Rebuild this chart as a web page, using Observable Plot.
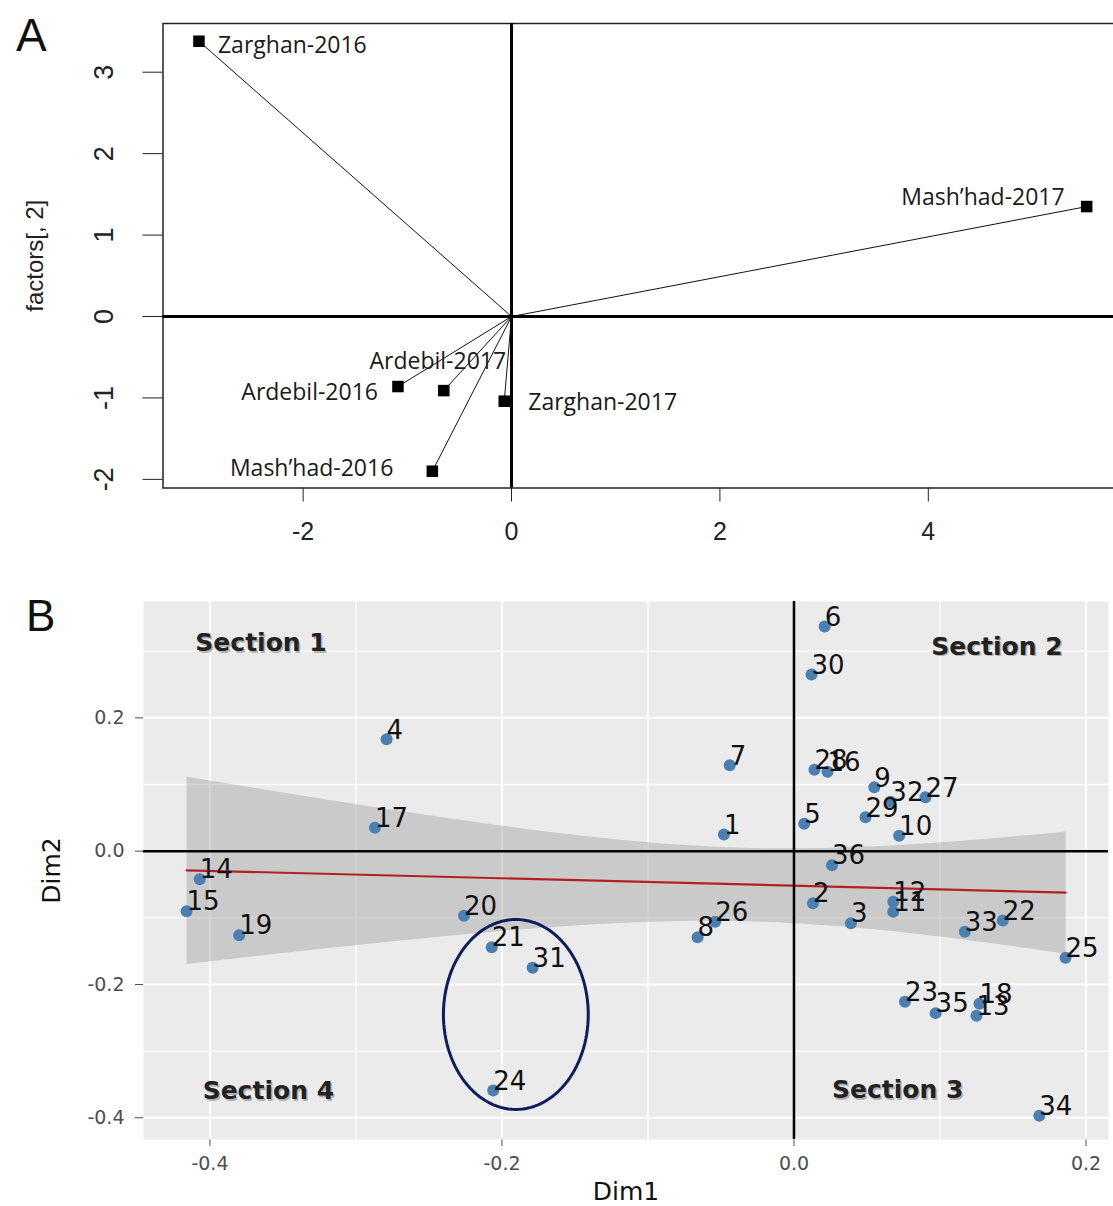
<!DOCTYPE html>
<html><head><meta charset="utf-8">
<script src="https://cdn.jsdelivr.net/npm/d3@7"></script>
<script src="https://cdn.jsdelivr.net/npm/@observablehq/plot@0.6"></script>
<style>
body{margin:0;background:#fff;}
#wrap{position:relative;width:1113px;height:1206px;overflow:hidden;background:#fff;}
.panel-letter{position:absolute;font-family:"Liberation Sans",Arial,sans-serif;line-height:1;color:#111;}
#plotA{position:absolute;left:0;top:0;}
#plotB{position:absolute;left:0;top:570px;}
</style></head><body>
<div id="wrap">
<div id="plotA"></div><div id="plotB"></div>
<div class="panel-letter" style="left:16px;top:12px;font-size:46px;">A</div>
<div class="panel-letter" style="left:26px;top:594px;font-size:44px;">B</div>
</div>
<script>
// ---------- Panel A data ----------
const envNames = ["Zarghan-2016", "Mash’had-2017", "Ardebil-2017", "Ardebil-2016", "Zarghan-2017", "Mash’had-2016"];
const envF1 = [-3.00, 5.52, -0.65, -1.09, -0.07, -0.76];
const envF2 = [3.38, 1.35, -0.91, -0.86, -1.04, -1.90];
const factorTicksX = [-2, 0, 2, 4];
const factorTicksY = [-2, -1, 0, 1, 2, 3];

// ---------- Panel B data ----------
const genotypeIds = [1,2,3,4,5,6,7,8,9,10,11,12,13,14,15,16,17,18,19,20,21,22,23,24,25,26,27,28,29,30,31,32,33,34,35,36];
const dim1 = [-0.048, 0.013, 0.039, -0.279, 0.007, 0.021, -0.044, -0.066, 0.055, 0.072, 0.068, 0.068, 0.125, -0.407, -0.416, 0.023, -0.287, 0.127, -0.380, -0.226, -0.207, 0.143, 0.076, -0.206, 0.186, -0.054, 0.090, 0.014, 0.049, 0.012, -0.179, 0.066, 0.117, 0.168, 0.097, 0.026];
const dim2 = [0.025, -0.078, -0.108, 0.168, 0.041, 0.337, 0.129, -0.129, 0.096, 0.023, -0.091, -0.076, -0.247, -0.042, -0.090, 0.119, 0.035, -0.229, -0.126, -0.097, -0.144, -0.104, -0.226, -0.359, -0.160, -0.106, 0.081, 0.122, 0.051, 0.265, -0.175, 0.074, -0.121, -0.397, -0.243, -0.021];
const sectionNames = ["Section 1", "Section 2", "Section 3", "Section 4"];
const sectionDim1 = [-0.365, 0.139, 0.071, -0.360];
const sectionDim2 = [0.312, 0.307, -0.359, -0.360];
const circledCenter = [-0.1905, -0.245];
const circledRadii = [0.0496, 0.1425];
const dimTicks = [-0.4, -0.2, 0, 0.2];
const minorTicksX = [-0.3, -0.1, 0.1];
const minorTicksY = [-0.3, -0.1, 0.1, 0.3];

// ---------- Panel A ----------
const envs = envNames.map((name, i) => ({name, x: envF1[i], y: envF2[i]}));
const labelStyleA = {
  "Zarghan-2016": {textAnchor: "start", dx: 19, dy: 4},
  "Mash’had-2017": {textAnchor: "end", dx: -22, dy: -9},
  "Ardebil-2017": {textAnchor: "middle", dx: -6, dy: -29},
  "Ardebil-2016": {textAnchor: "end", dx: -20, dy: 6},
  "Zarghan-2017": {textAnchor: "start", dx: 24, dy: 1},
  "Mash’had-2016": {textAnchor: "end", dx: -39, dy: -3}
};
const envLabelMarks = envs.map(e => Plot.text([e], {
  x: "x", y: "y", text: "name", fill: "#1a1a1a", fontSize: 23,
  fontFamily: '"Open Sans", sans-serif', ...labelStyleA[e.name]
}));

const plotA = Plot.plot({
  width: 1113, height: 570,
  marginLeft: 162.5, marginRight: -6, marginTop: 23, marginBottom: 82.5,
  style: {fontFamily: '"Liberation Sans", Arial, sans-serif', fontSize: "25px", color: "#222", background: "white"},
  x: {domain: [-3.345, 5.835], ticks: factorTicksX, tickSize: 14, tickPadding: 20, tickFormat: d => String(d), label: null},
  y: {domain: [-2.106, 3.598], ticks: factorTicksY, tickSize: 20, tickFormat: () => "", label: null},
  marks: [
    Plot.frame({stroke: "#222", strokeWidth: 1.5}),
    Plot.ruleY([0], {stroke: "#000", strokeWidth: 3}),
    Plot.ruleX([0], {stroke: "#000", strokeWidth: 3}),
    Plot.link(envs, {x1: () => 0, y1: () => 0, x2: "x", y2: "y", stroke: "#111", strokeWidth: 1}),
    Plot.dot(envs, {x: "x", y: "y", symbol: "square", r: 6.5, fill: "#000"}),
    ...envLabelMarks,
    Plot.text(factorTicksY, {y: d => d, text: d => String(d), frameAnchor: "left", textAnchor: "middle", lineAnchor: "middle", dx: -59, rotate: -90, fontSize: 27, fill: "#222"}),
    Plot.text(["factors[, 2]"], {text: d => d, frameAnchor: "left", textAnchor: "middle", lineAnchor: "middle", dx: -128, rotate: -90, fontSize: 24, fill: "#222"})
  ]
});
document.getElementById("plotA").appendChild(plotA);

// ---------- Panel B ----------
const genos = genotypeIds.map((id, i) => ({id: String(id), x: dim1[i], y: dim2[i]}));
const sections = sectionNames.map((name, i) => ({name, x: sectionDim1[i], y: sectionDim2[i]}));
const ellipsePts = d3.range(0, 120).map(k => {
  const t = 2 * Math.PI * k / 120;
  return {x: circledCenter[0] + circledRadii[0] * Math.cos(t), y: circledCenter[1] + circledRadii[1] * Math.sin(t)};
});

const plotB = Plot.plot({
  width: 1113, height: 636,
  marginLeft: 143, marginRight: 5, marginTop: 31, marginBottom: 67,
  style: {fontFamily: '"DejaVu Sans", sans-serif', fontSize: "19px", color: "#4D4D4D", background: "white"},
  x: {domain: [-0.4455, 0.2154], ticks: dimTicks, tickSize: 7, tickPadding: 10, tickFormat: d => d.toFixed(1), label: null},
  y: {domain: [-0.4326, 0.3746], ticks: dimTicks, tickSize: 8, tickPadding: 11, tickFormat: d => d.toFixed(1), label: null},
  marks: [
    Plot.frame({fill: "#EBEBEB", stroke: null}),
    Plot.ruleX(minorTicksX, {stroke: "#fff", strokeWidth: 1.3}),
    Plot.ruleY(minorTicksY, {stroke: "#fff", strokeWidth: 1.3}),
    Plot.ruleX(dimTicks, {stroke: "#fff", strokeWidth: 2}),
    Plot.ruleY(dimTicks, {stroke: "#fff", strokeWidth: 2}),
    Plot.linearRegressionY(genos, {x: "x", y: "y", stroke: "#b22222", strokeWidth: 2.2, fill: "#999999", fillOpacity: 0.4}),
    Plot.ruleY([0], {stroke: "#000", strokeWidth: 2.5}),
    Plot.ruleX([0], {stroke: "#000", strokeWidth: 2.5}),
    Plot.dot(genos, {x: "x", y: "y", r: 6, fill: "#4a80b1"}),
    Plot.text(genos, {x: "x", y: "y", text: "id", textAnchor: "start", dx: 0, dy: -9, fontSize: 26, fill: "#111"}),
    Plot.line(ellipsePts, {x: "x", y: "y", curve: "linear-closed", stroke: "#0c1f5c", strokeWidth: 3}),
    Plot.text(sections, {x: "x", y: "y", text: "name", dx: 1.5, dy: 1.5, fontSize: 25, fontWeight: "bold", fill: "#8a8a8a", fillOpacity: 0.6}),
    Plot.text(sections, {x: "x", y: "y", text: "name", fontSize: 25, fontWeight: "bold", fill: "#222"}),
    Plot.text(["Dim1"], {text: d => d, frameAnchor: "bottom", textAnchor: "middle", lineAnchor: "middle", dy: 52, fontSize: 25, fill: "#111"}),
    Plot.text(["Dim2"], {text: d => d, frameAnchor: "left", textAnchor: "middle", lineAnchor: "middle", dx: -92, rotate: -90, fontSize: 25, fill: "#111"})
  ]
});
document.getElementById("plotB").appendChild(plotB);
</script>
</body></html>
